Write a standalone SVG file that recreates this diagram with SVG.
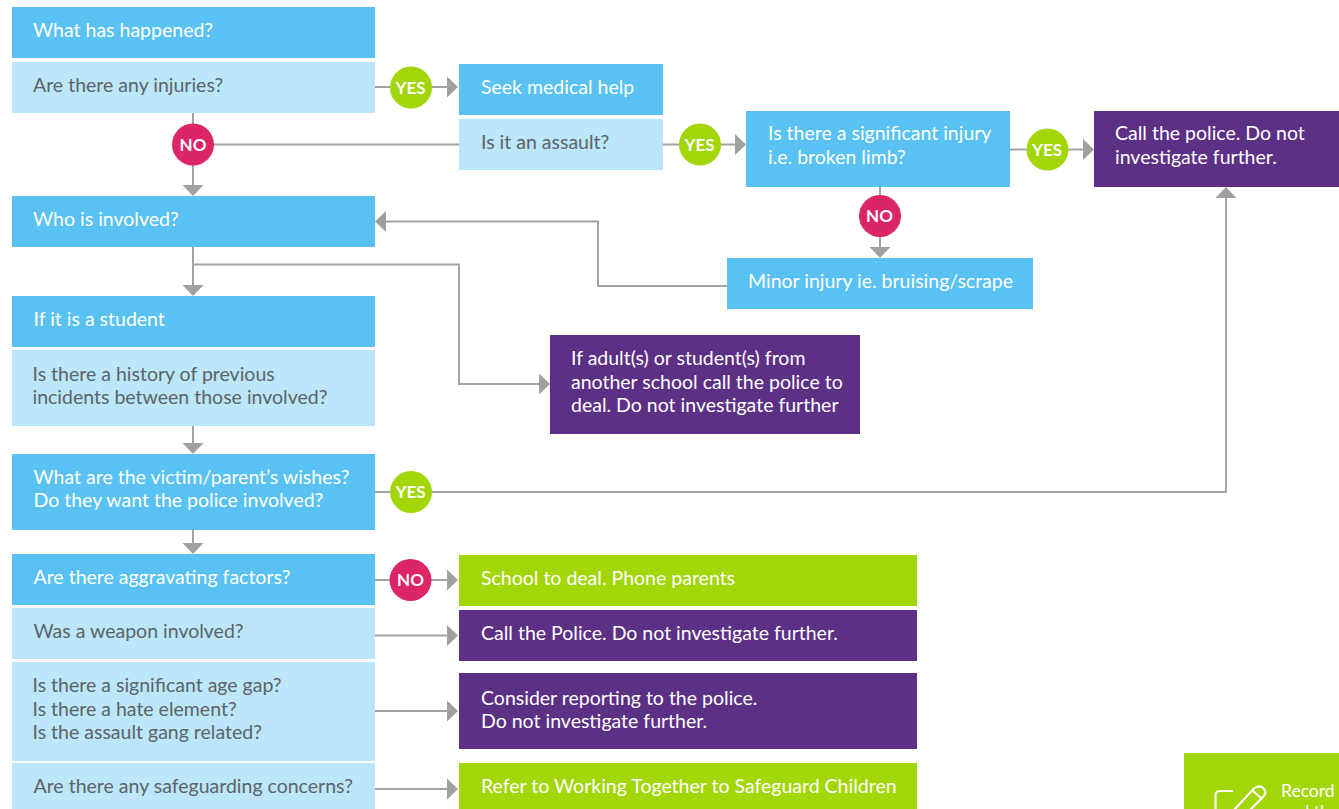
<svg xmlns="http://www.w3.org/2000/svg" width="1339" height="809" viewBox="0 0 1339 809">
<style>
text{font-family:Lato,"Open Sans","Liberation Sans",sans-serif;font-size:19.5px}
.w{fill:#fff}
.d{fill:#5d6468}
.b{fill:#59c2f2}
.l{fill:#bce6f9}
.p{fill:#5c3085}
.g{fill:#a2d606}
.c{fill:none;stroke:#a3a3a3;stroke-width:2}
.a{fill:#a0a09e}
.y{fill:#a2d606}
.n{fill:#dc2566}
.t{fill:#fff;font-size:17px;font-weight:700;text-anchor:middle}
</style>
<defs>
<path id="right" class="a" d="M-11 -10.500L0 0L-11 10.500Z"/>
<path id="down" class="a" d="M-10.500 -11L10.500 -11L0 0Z"/>
<path id="left" class="a" d="M11 -10.500L0 0L11 10.500Z"/>
<path id="up" class="a" d="M-10.500 11L10.500 11L0 0Z"/>
</defs>
<g id="connectors">
<path class="c" d="M375 87H449"/><use href="#right" x="458" y="87"/>
<path class="c" d="M193 113V186"/><use href="#down" x="193" y="196"/>
<path class="c" d="M193 144.500H459"/>
<path class="c" d="M663 144.500H737"/><use href="#right" x="746" y="144.500"/>
<path class="c" d="M1010 149.500H1085"/><use href="#right" x="1094" y="149.500"/>
<path class="c" d="M880 187V248"/><use href="#down" x="880" y="258"/>
<path class="c" d="M727 286H598V221.500H385"/><use href="#left" x="375" y="221.500"/>
<path class="c" d="M193 247V286"/><use href="#down" x="193" y="296"/>
<path class="c" d="M193 264.500H459V384H541"/><use href="#right" x="550" y="384"/>
<path class="c" d="M193 426V444"/><use href="#down" x="193" y="454"/>
<path class="c" d="M375 492H1226V197"/><use href="#up" x="1226" y="187"/>
<path class="c" d="M193 530V544"/><use href="#down" x="193" y="554"/>
<path class="c" d="M375 580H449"/><use href="#right" x="458" y="580"/>
<path class="c" d="M375 635.500H449"/><use href="#right" x="458" y="635.500"/>
<path class="c" d="M375 711H449"/><use href="#right" x="458" y="711"/>
<path class="c" d="M375 789H449"/><use href="#right" x="458" y="789"/>
</g>
<g id="n-happened"><rect class="b" x="12" y="7" width="363" height="51"/><text class="w" x="33" y="37">What has happened?</text></g>
<g id="n-injuries"><rect class="l" x="12" y="62" width="363" height="51"/><text class="d" x="33" y="92">Are there any injuries?</text></g>
<g id="n-medical"><rect class="b" x="459" y="64" width="204" height="51"/><text class="w" x="481" y="94">Seek medical help</text></g>
<g id="n-assault"><rect class="l" x="459" y="119" width="204" height="51"/><text class="d" x="481" y="149">Is it an assault?</text></g>
<g id="n-significant"><rect class="b" x="746" y="111" width="264" height="76"/><text class="w" x="768" y="140">Is there a significant injury</text><text class="w" x="768" y="164">i.e. broken limb?</text></g>
<g id="n-police"><rect class="p" x="1094" y="111" width="245" height="76"/><text class="w" x="1115" y="140">Call the police. Do not</text><text class="w" x="1115" y="164">investigate further.</text></g>
<g id="n-who"><rect class="b" x="12" y="196" width="363" height="51"/><text class="w" x="33" y="226">Who is involved?</text></g>
<g id="n-minor"><rect class="b" x="727" y="258" width="306" height="51"/><text class="w" x="748" y="288">Minor injury ie. bruising/scrape</text></g>
<g id="n-student"><rect class="b" x="12" y="296" width="363" height="51"/><text class="w" x="33.500" y="326">If it is a student</text></g>
<g id="n-history"><rect class="l" x="12" y="350" width="363" height="76"/><text class="d" x="32.500" y="381">Is there a history of previous</text><text class="d" x="32.500" y="404">incidents between those involved?</text></g>
<g id="n-adult"><rect class="p" x="550" y="335" width="310" height="99"/><text class="w" x="571" y="365">If adult(s) or student(s) from</text><text class="w" x="571" y="389">another school call the police to</text><text class="w" x="571" y="412">deal. Do not investigate further</text></g>
<g id="n-wishes"><rect class="b" x="12" y="454" width="363" height="76"/><text class="w" x="33.500" y="484">What are the victim/parent’s wishes?</text><text class="w" x="33.500" y="507">Do they want the police involved?</text></g>
<g id="n-aggravating"><rect class="b" x="12" y="554" width="363" height="51"/><text class="w" x="33.500" y="584">Are there aggravating factors?</text></g>
<g id="n-weapon"><rect class="l" x="12" y="608" width="363" height="51"/><text class="d" x="33.500" y="638">Was a weapon involved?</text></g>
<g id="n-agegap"><rect class="l" x="12" y="662" width="363" height="99"/><text class="d" x="32.500" y="692">Is there a significant age gap?</text><text class="d" x="32.500" y="716">Is there a hate element?</text><text class="d" x="32.500" y="739">Is the assault gang related?</text></g>
<g id="n-safeguarding"><rect class="l" x="12" y="763" width="363" height="46"/><text class="d" x="33.500" y="793">Are there any safeguarding concerns?</text></g>
<g id="n-school"><rect class="g" x="459" y="555" width="458" height="51"/><text class="w" x="481" y="585">School to deal. Phone parents</text></g>
<g id="n-callpolice"><rect class="p" x="459" y="610" width="458" height="51"/><text class="w" x="481" y="640">Call the Police. Do not investigate further.</text></g>
<g id="n-consider"><rect class="p" x="459" y="673" width="458" height="76"/><text class="w" x="481" y="705">Consider reporting to the police.</text><text class="w" x="481" y="728">Do not investigate further.</text></g>
<g id="n-refer"><rect class="g" x="459" y="763" width="458" height="46"/><text class="w" x="481" y="793">Refer to Working Together to Safeguard Children</text></g>
<g id="n-record"><rect class="g" x="1184" y="753" width="155" height="56"/><text class="w" x="1281" y="797" style="font-size:17.500px">Record</text><text class="w" x="1281" y="818" style="font-size:17.500px">and the</text>
<path d="M1233 791H1220Q1215.500 791 1215.500 796V812M1233 811L1254 788.500Q1258 785 1262 787L1264 789Q1267 793 1263 797L1245 815" fill="none" stroke="#fff" stroke-width="2.200"/><path d="M1252 790L1262 799" fill="none" stroke="#fff" stroke-width="2"/></g>
<g id="b-yes1"><circle class="y" cx="411" cy="87.500" r="21"/><text class="t" x="410.500" y="93.500">YES</text></g>
<g id="b-no1"><circle class="n" cx="193" cy="144.500" r="21"/><text class="t" x="193" y="150.500">NO</text></g>
<g id="b-yes2"><circle class="y" cx="700" cy="144.500" r="21"/><text class="t" x="699.500" y="150.500">YES</text></g>
<g id="b-yes3"><circle class="y" cx="1047.500" cy="149.500" r="21"/><text class="t" x="1047" y="155.500">YES</text></g>
<g id="b-no2"><circle class="n" cx="880" cy="216" r="21"/><text class="t" x="879.500" y="222">NO</text></g>
<g id="b-yes4"><circle class="y" cx="411" cy="492" r="21"/><text class="t" x="410.500" y="497.500">YES</text></g>
<g id="b-no3"><circle class="n" cx="410.500" cy="580" r="21"/><text class="t" x="410.500" y="586">NO</text></g>
</svg>
